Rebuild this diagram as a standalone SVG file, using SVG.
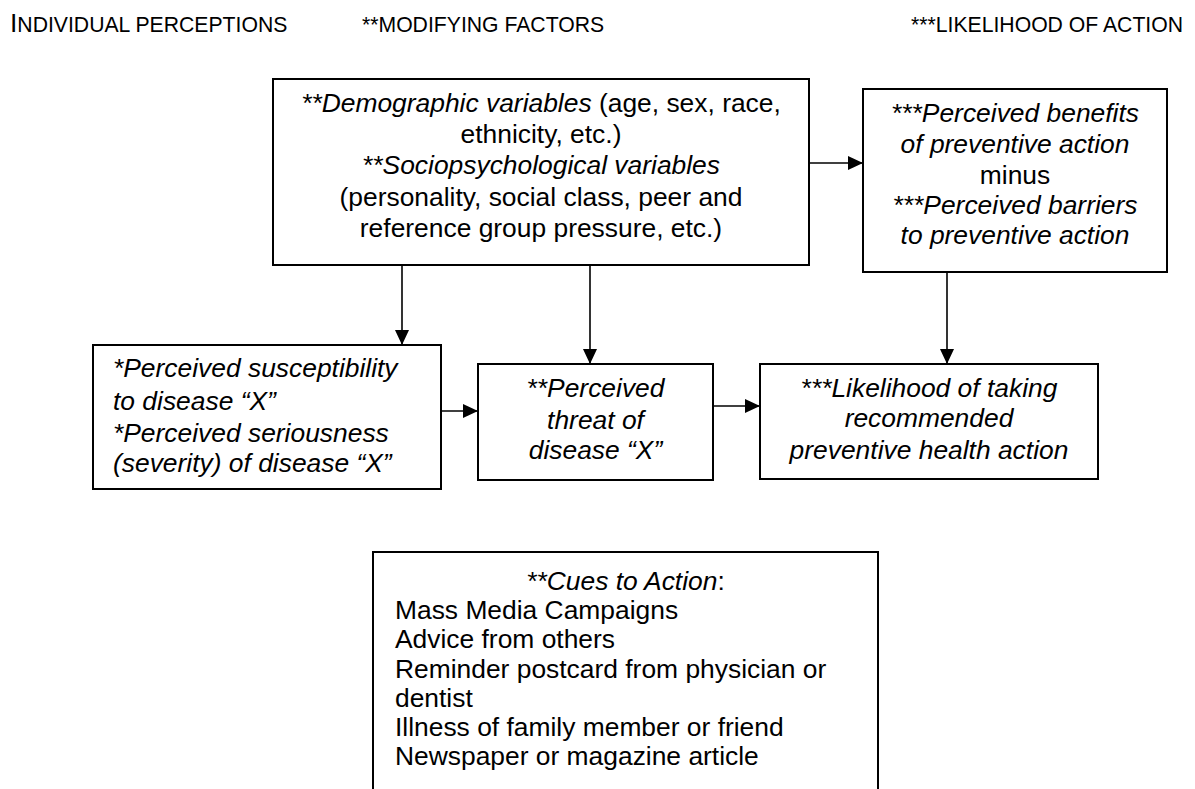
<svg xmlns="http://www.w3.org/2000/svg" width="1195" height="789" viewBox="0 0 1195 789">
  <style>
    text { font-family: "Liberation Sans", Arial, sans-serif; font-size: 26.4px; fill: #000; }
    .hdr { font-size: 21.2px; }
    .cap { font-size: 26.4px; }
    .it { font-style: italic; }
    .box { fill: #fff; stroke: #000; stroke-width: 2; }
    .con { stroke: #000; stroke-width: 1.6; fill: none; marker-end: url(#arr); }
    .mid { text-anchor: middle; }
  </style>
  <defs>
    <marker id="arr" markerUnits="userSpaceOnUse" markerWidth="16" markerHeight="16" viewBox="0 0 16 16" refX="15" refY="8" orient="auto">
      <path d="M0,1 L15,8 L0,15 Z" fill="#000"/>
    </marker>
  </defs>

  <g id="headers">
    <text class="hdr" x="10" y="32"><tspan class="cap">I</tspan>NDIVIDUAL PERCEPTIONS</text>
    <text class="hdr" x="362" y="32">**MODIFYING FACTORS</text>
    <text class="hdr" x="1183" y="32" text-anchor="end">***LIKELIHOOD OF ACTION</text>
  </g>

  <g id="connectors">
    <line class="con" x1="809" y1="163" x2="863" y2="163"/>
    <line class="con" x1="402" y1="265" x2="402" y2="345"/>
    <line class="con" x1="590" y1="265" x2="590" y2="364"/>
    <line class="con" x1="947" y1="272" x2="947" y2="364"/>
    <line class="con" x1="441" y1="411" x2="478" y2="411"/>
    <line class="con" x1="713" y1="406" x2="760" y2="406"/>
  </g>

  <g id="modifying-variables">
    <rect class="box" x="273" y="79" width="536" height="186"/>
    <text class="mid" x="541" y="112"><tspan class="it">**Demographic variables</tspan> (age, sex, race,</text>
    <text class="mid" x="541" y="143">ethnicity, etc.)</text>
    <text class="mid it" x="541" y="174">**Sociopsychological variables</text>
    <text class="mid" x="541" y="206">(personality, social class, peer and</text>
    <text class="mid" x="541" y="237">reference group pressure, etc.)</text>
  </g>

  <g id="benefits-barriers">
    <rect class="box" x="863" y="89" width="304" height="183"/>
    <text class="mid it" x="1015" y="122">***Perceived benefits</text>
    <text class="mid it" x="1015" y="153">of preventive action</text>
    <text class="mid" x="1015" y="184">minus</text>
    <text class="mid it" x="1015" y="214">***Perceived barriers</text>
    <text class="mid it" x="1015" y="244">to preventive action</text>
  </g>

  <g id="susceptibility-seriousness">
    <rect class="box" x="93" y="345" width="348" height="144"/>
    <text class="it" x="113" y="377">*Perceived susceptibility</text>
    <text class="it" x="113" y="410">to disease “X”</text>
    <text class="it" x="113" y="442">*Perceived seriousness</text>
    <text class="it" x="113" y="472">(severity) of disease “X”</text>
  </g>

  <g id="perceived-threat">
    <rect class="box" x="478" y="364" width="235" height="116"/>
    <text class="mid it" x="595.5" y="397">**Perceived</text>
    <text class="mid it" x="595.5" y="429">threat of</text>
    <text class="mid it" x="595.5" y="459">disease “X”</text>
  </g>

  <g id="likelihood-action">
    <rect class="box" x="760" y="364" width="338" height="115"/>
    <text class="mid it" x="929" y="397">***Likelihood of taking</text>
    <text class="mid it" x="929" y="427">recommended</text>
    <text class="mid it" x="929" y="459">preventive health action</text>
  </g>

  <g id="cues-to-action">
    <path class="box" d="M373,790 L373,552 L878,552 L878,790"/>
    <text class="mid" x="625.5" y="590"><tspan class="it">**Cues to Action</tspan>:</text>
    <text x="395" y="619">Mass Media Campaigns</text>
    <text x="395" y="648">Advice from others</text>
    <text x="395" y="678">Reminder postcard from physician or</text>
    <text x="395" y="707">dentist</text>
    <text x="395" y="736">Illness of family member or friend</text>
    <text x="395" y="765">Newspaper or magazine article</text>
  </g>
</svg>
